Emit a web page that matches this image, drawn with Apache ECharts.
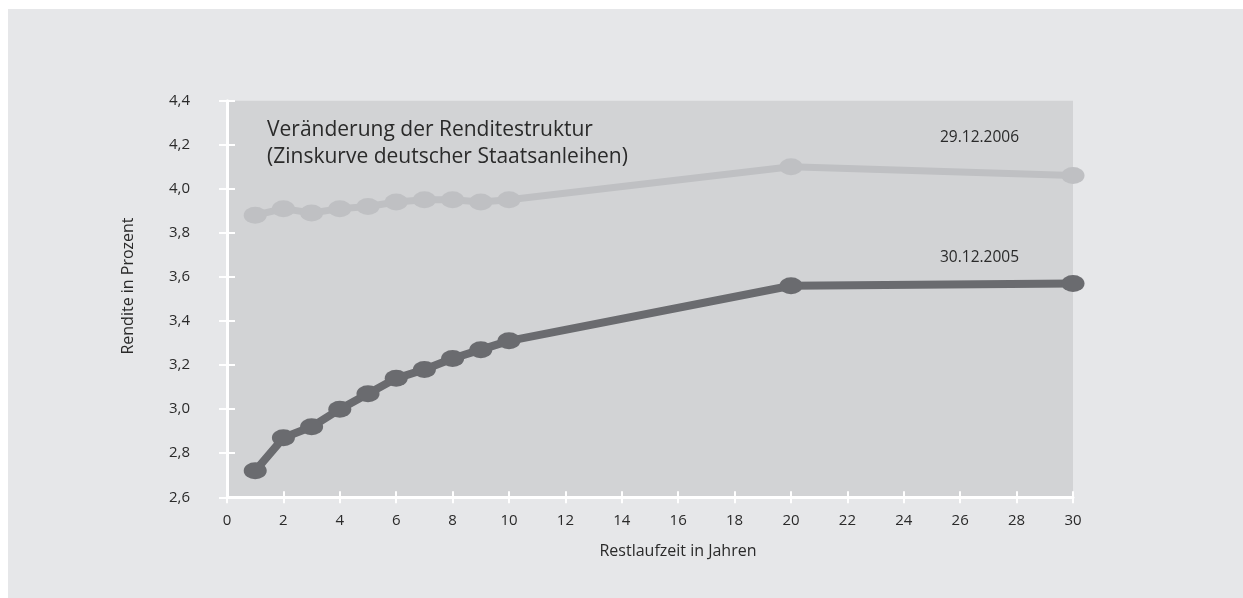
<!DOCTYPE html>
<html><head><meta charset="utf-8">
<script src="https://cdn.jsdelivr.net/npm/echarts@6/dist/echarts.min.js"></script>
<style>html,body{margin:0;padding:0;background:#fff;}#c{width:1243px;height:598px;}</style>
</head><body><div id="c"></div>
<script>
var years = [1,2,3,4,5,6,7,8,9,10,20,30];
var yields2006 = [3.88,3.91,3.89,3.91,3.92,3.94,3.95,3.95,3.94,3.95,4.10,4.06];
var yields2005 = [2.72,2.87,2.92,3.00,3.07,3.14,3.18,3.23,3.27,3.31,3.56,3.57];
var titleLines = ['Veränderung der Renditestruktur','(Zinskurve deutscher Staatsanleihen)'];
var label2006 = '29.12.2006', label2005 = '30.12.2005';
var xName = 'Restlaufzeit in Jahren', yName = 'Rendite in Prozent';

function pairs(ys){ return years.map(function(x,i){return [x, ys[i]];}); }
var font = 'Open Sans';
var chart = echarts.init(document.getElementById('c'));
var fmt = function(v){ return v.toFixed(1).replace('.', ','); };
var baseX = {type:'value', min:0, max:30, interval:2, splitLine:{show:false}};
var baseY = {type:'value', min:2.6, max:4.4, interval:0.2, splitLine:{show:false}};
chart.setOption({
  backgroundColor:'#ffffff',
  animation:false,
  graphic:[
    {type:'rect', z:-10, shape:{x:8,y:9,width:1235,height:589}, style:{fill:'#e6e7e9'}},
    {type:'text', left:267, top:117, style:{text:titleLines.join('\n'), font:'21px "Open Sans"', fill:'#2a2a2a', lineHeight:27}},
    {type:'text', left:940, top:130, style:{text:label2006, font:'15.5px "Open Sans"', fill:'#2a2a2a'}},
    {type:'text', left:940, top:250, style:{text:label2005, font:'15.5px "Open Sans"', fill:'#2a2a2a'}},
    {type:'text', x:128, y:286, rotation:Math.PI/2, style:{text:yName, font:'16px "Open Sans"', fill:'#2a2a2a', textAlign:'center', textVerticalAlign:'middle'}}
  ],
  grid:{left:227, right:170, top:100.7, bottom:100.7, show:true, backgroundColor:'#d2d3d5', borderWidth:0},
  xAxis:[
    Object.assign({}, baseX, {
      name:xName, nameLocation:'middle', nameGap:46,
      nameTextStyle:{fontFamily:font, fontSize:16, color:'#2a2a2a', padding:[0,0,0,56]},
      axisLine:{lineStyle:{color:'#ffffff', width:3}},
      axisTick:{show:true, length:6, inside:false, lineStyle:{color:'#ffffff', width:2}},
      axisLabel:{fontFamily:font, fontSize:15, color:'#2a2a2a', margin:16}
    }),
    Object.assign({}, baseX, {
      position:'bottom',
      axisLine:{show:false},
      axisTick:{show:true, length:6, inside:true, lineStyle:{color:'#ffffff', width:2}},
      axisLabel:{show:false}
    })
  ],
  yAxis:[
    Object.assign({}, baseY, {
      axisLine:{show:true, lineStyle:{color:'#ffffff', width:3}},
      axisTick:{show:true, length:8, inside:false, lineStyle:{color:'#ffffff', width:2}},
      axisLabel:{fontFamily:font, fontSize:15, color:'#2a2a2a', margin:37, formatter:fmt}
    }),
    Object.assign({}, baseY, {
      position:'left',
      axisLine:{show:false},
      axisTick:{show:true, length:8, inside:true, lineStyle:{color:'#ffffff', width:2}},
      axisLabel:{show:false}
    })
  ],
  series:[
    {type:'line', data:pairs(yields2006), symbol:'circle', symbolSize:[23,17],
     lineStyle:{color:'#bfc0c3', width:7}, itemStyle:{color:'#bfc0c3'}, z:3},
    {type:'line', data:pairs(yields2005), symbol:'circle', symbolSize:[23,17],
     lineStyle:{color:'#6a6b6f', width:8}, itemStyle:{color:'#6a6b6f'}, z:4}
  ]
});
</script></body></html>
